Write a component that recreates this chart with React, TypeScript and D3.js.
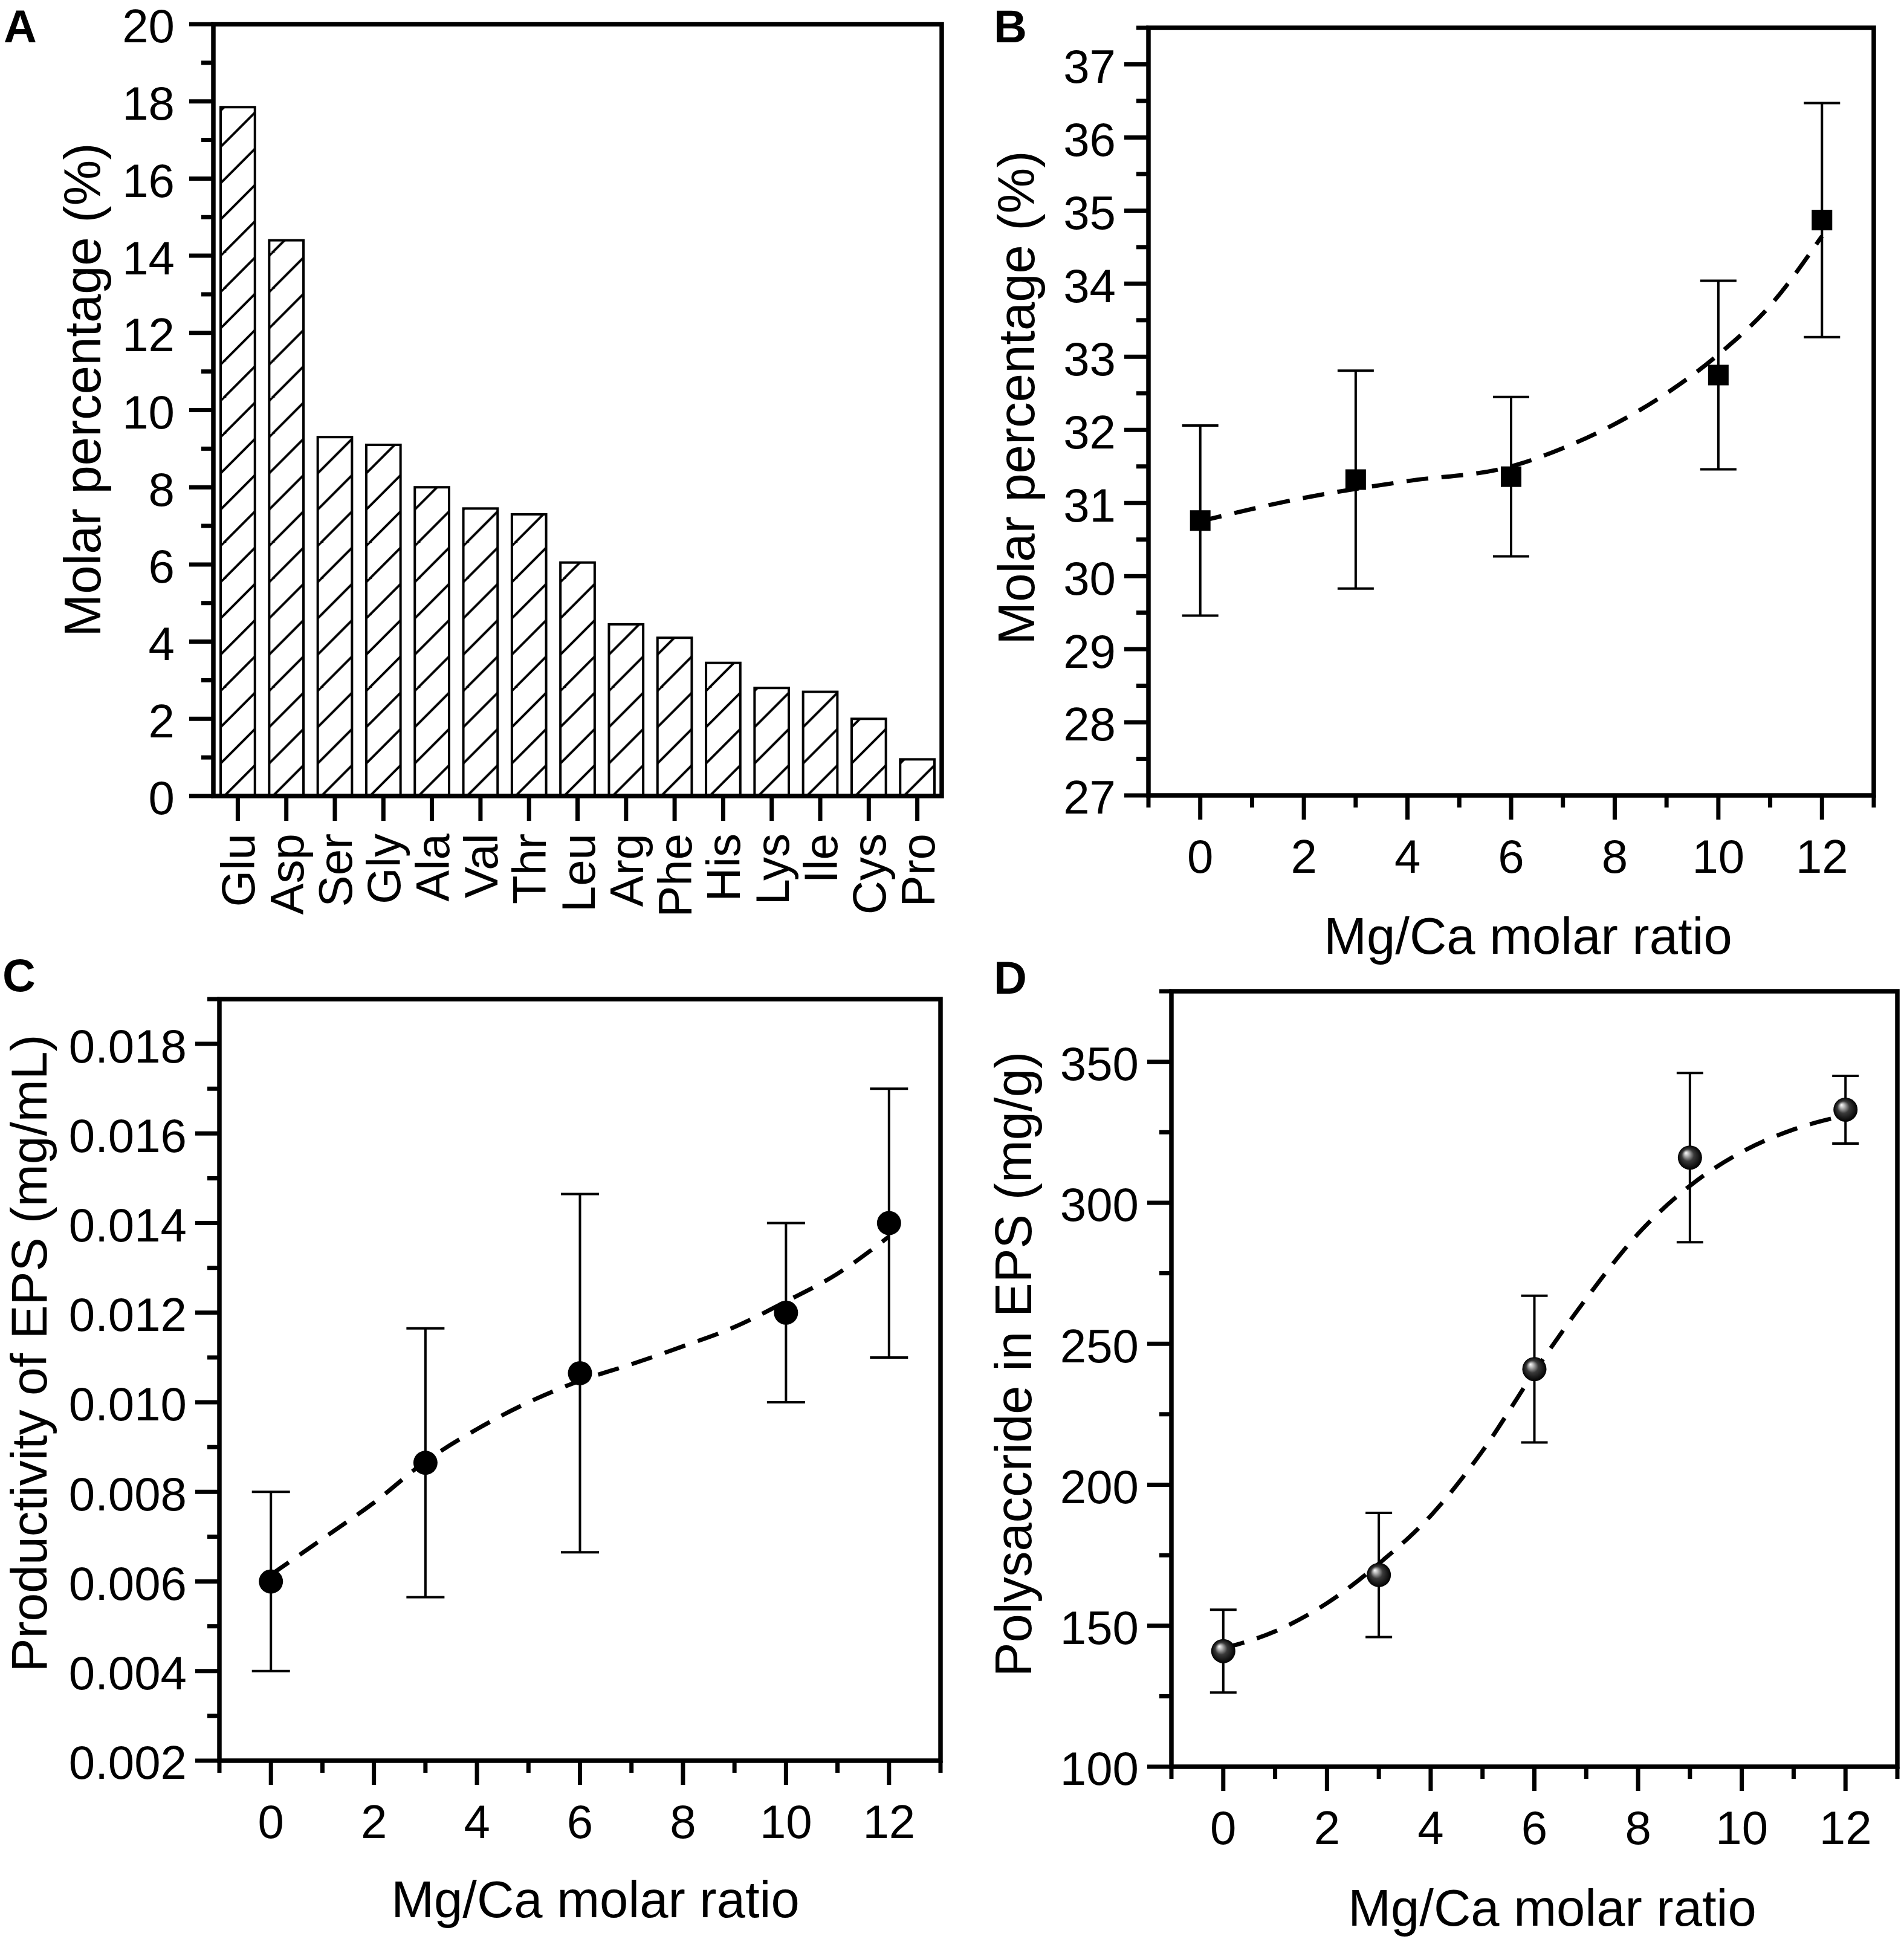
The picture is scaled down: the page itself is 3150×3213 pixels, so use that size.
import React from 'react';
import * as d3 from 'd3';

// panel A: amino acid composition
const aminoAcids = ['Glu', 'Asp', 'Ser', 'Gly', 'Ala', 'Val', 'Thr', 'Leu', 'Arg', 'Phe', 'His', 'Lys', 'Ile', 'Cys', 'Pro'];
const molarPct = [17.85, 14.4, 9.3, 9.1, 8.0, 7.45, 7.3, 6.05, 4.45, 4.1, 3.45, 2.8, 2.7, 2.0, 0.95];
const ticksA = [0, 2, 4, 6, 8, 10, 12, 14, 16, 18, 20];
const minorA = [1, 3, 5, 7, 9, 11, 13, 15, 17, 19];

// shared x axis for B, C, D
const ratioTicks = [0, 2, 4, 6, 8, 10, 12];
const ratioMinor = [-1, 1, 3, 5, 7, 9, 11, 13];

// panel B
const ratioB = [0, 3, 6, 10, 12];
const molarB = [30.76, 31.32, 31.36, 32.75, 34.87];
const errB = [1.3, 1.49, 1.09, 1.29, 1.6];
const fitXB = [0, 2, 4, 6, 7, 8, 9, 10, 11, 12];
const fitYB = [30.75, 31.07, 31.3, 31.5, 31.75, 32.08, 32.5, 33.03, 33.7, 34.65];
const ticksB = [27, 28, 29, 30, 31, 32, 33, 34, 35, 36, 37];
const minorB = [27.5, 28.5, 29.5, 30.5, 31.5, 32.5, 33.5, 34.5, 35.5, 36.5, 37.5];

// panel C
const ratioC = [0, 3, 6, 10, 12];
const prodC = [0.006, 0.00865, 0.01065, 0.012, 0.014];
const errC = [0.002, 0.003, 0.004, 0.002, 0.003];
const fitXC = [0, 1, 2, 3, 4, 5, 6, 7, 8, 9, 10, 11, 12];
const fitYC = [0.00615, 0.00695, 0.00776, 0.00868, 0.0094, 0.01, 0.01048, 0.01085, 0.01125, 0.01168, 0.01225, 0.01287, 0.0137];
const ticksC = [0.002, 0.004, 0.006, 0.008, 0.01, 0.012, 0.014, 0.016, 0.018];
const minorC = [0.003, 0.005, 0.007, 0.009, 0.011, 0.013, 0.015, 0.017, 0.019];

// panel D
const ratioD = [0, 3, 6, 9, 12];
const polyD = [141, 168, 241, 316, 333];
const errD = [14.7, 22, 26, 30, 12];
const fitXD = [0, 1, 2, 3, 4, 5, 6, 7, 8, 9, 10, 11, 12];
const fitYD = [142, 148, 158, 172, 189, 212, 240, 266, 289, 306, 318, 326, 331];
const ticksD = [100, 150, 200, 250, 300, 350];
const minorD = [125, 175, 225, 275, 325, 375];

const FONT = '"Liberation Sans", Arial, Helvetica, sans-serif';
const TICK_FS = 78;
const TITLE_FS = 85;
const LETTER_FS = 76;
const AXIS_W = 7.5;
const MAJOR = 40;
const MINOR = 20;

type Box = { left: number; right: number; top: number; bottom: number };

function YAxis({
  box,
  y,
  major,
  minor,
  fmt,
  gap = 54,
}: {
  box: Box;
  y: d3.ScaleLinear<number, number>;
  major: number[];
  minor: number[];
  fmt: (v: number) => string;
  gap?: number;
}) {
  return (
    <g>
      {major.map((v) => (
        <line key={'M' + v} x1={box.left - MAJOR} x2={box.left} y1={y(v)} y2={y(v)} stroke="#000" strokeWidth={7} />
      ))}
      {minor.map((v) => (
        <line key={'m' + v} x1={box.left - MINOR} x2={box.left} y1={y(v)} y2={y(v)} stroke="#000" strokeWidth={7} />
      ))}
      {major.map((v) => (
        <text key={'t' + v} x={box.left - gap} y={y(v)} dy="0.39em" textAnchor="end" fontSize={TICK_FS}>
          {fmt(v)}
        </text>
      ))}
    </g>
  );
}

function XAxis({ box, x }: { box: Box; x: d3.ScaleLinear<number, number> }) {
  return (
    <g>
      {ratioTicks.map((v) => (
        <line key={'M' + v} x1={x(v)} x2={x(v)} y1={box.bottom} y2={box.bottom + MAJOR} stroke="#000" strokeWidth={7} />
      ))}
      {ratioMinor.map((v) => (
        <line key={'m' + v} x1={x(v)} x2={x(v)} y1={box.bottom} y2={box.bottom + MINOR} stroke="#000" strokeWidth={7} />
      ))}
      {ratioTicks.map((v) => (
        <text key={'t' + v} x={x(v)} y={box.bottom + 128} textAnchor="middle" fontSize={TICK_FS}>
          {v}
        </text>
      ))}
    </g>
  );
}

function Frame({ box }: { box: Box }) {
  return (
    <rect x={box.left} y={box.top} width={box.right - box.left} height={box.bottom - box.top} fill="none" stroke="#000" strokeWidth={AXIS_W} />
  );
}

interface ScatterProps {
  box: Box;
  yDomain: [number, number];
  xs: number[];
  ys: number[];
  errs: number[];
  fitX: number[];
  fitY: number[];
  major: number[];
  minor: number[];
  fmt: (v: number) => string;
  marker: 'square' | 'circle' | 'sphere';
  cap: number;
  yTitle: string;
  yTitleX: number;
  yTitleY: number;
  yTitleFs?: number;
  xTitleX: number;
  xTitleY: number;
  letter: string;
  letterX: number;
  letterY: number;
}

function ScatterPanel(p: ScatterProps) {
  const x = d3.scaleLinear().domain([-1, 13]).range([p.box.left, p.box.right]);
  const y = d3.scaleLinear().domain(p.yDomain).range([p.box.bottom, p.box.top]);
  const fit = d3
    .line<number>()
    .x((_, i) => x(p.fitX[i]))
    .y((d) => y(d))
    .curve(d3.curveMonotoneX);
  return (
    <g>
      <XAxis box={p.box} x={x} />
      <YAxis box={p.box} y={y} major={p.major} minor={p.minor} fmt={p.fmt} />
      {p.xs.map((xv, i) => {
        const cx = x(xv);
        const hi = y(p.ys[i] + p.errs[i]);
        const lo = y(p.ys[i] - p.errs[i]);
        return (
          <g key={'e' + i} stroke="#000" strokeWidth={4}>
            <line x1={cx} x2={cx} y1={hi} y2={lo} />
            <line x1={cx - p.cap / 2} x2={cx + p.cap / 2} y1={hi} y2={hi} />
            <line x1={cx - p.cap / 2} x2={cx + p.cap / 2} y1={lo} y2={lo} />
          </g>
        );
      })}
      <path d={fit(p.fitY) ?? ''} fill="none" stroke="#000" strokeWidth={7} strokeDasharray="36 22" />
      {p.xs.map((xv, i) => {
        const cx = x(xv);
        const cy = y(p.ys[i]);
        if (p.marker === 'square') return <rect key={'p' + i} x={cx - 17} y={cy - 17} width={34} height={34} fill="#000" />;
        if (p.marker === 'circle') return <circle key={'p' + i} cx={cx} cy={cy} r={20} fill="#000" />;
        return <circle key={'p' + i} cx={cx} cy={cy} r={20} fill="url(#sphere)" />;
      })}
      <Frame box={p.box} />
      <text transform={`translate(${p.yTitleX},${p.yTitleY}) rotate(-90)`} textAnchor="middle" fontSize={p.yTitleFs ?? TITLE_FS}>
        {p.yTitle}
      </text>
      <text x={p.xTitleX} y={p.xTitleY} textAnchor="middle" fontSize={TITLE_FS}>
        Mg/Ca molar ratio
      </text>
      <text x={p.letterX} y={p.letterY} fontSize={LETTER_FS} fontWeight="bold">
        {p.letter}
      </text>
    </g>
  );
}

function BarPanel() {
  const box: Box = { left: 353, right: 1558, top: 40, bottom: 1317 };
  const x = d3.scaleBand<string>().domain(aminoAcids).range([box.left, box.right]).paddingInner(0.294).paddingOuter(0.15);
  const y = d3.scaleLinear().domain([0, 20]).range([box.bottom, box.top]);
  const bw = x.bandwidth();
  return (
    <g>
      <defs>
        {aminoAcids.map((a) => (
          <pattern key={a} id={'hatch-' + a} patternUnits="userSpaceOnUse" width={60} height={60} x={(x(a) ?? 0) + 6} y={box.bottom}>
            <line x1={0} y1={60} x2={60} y2={0} stroke="#000" strokeWidth={4} />
            <line x1={-10} y1={10} x2={10} y2={-10} stroke="#000" strokeWidth={4} />
            <line x1={50} y1={70} x2={70} y2={50} stroke="#000" strokeWidth={4} />
          </pattern>
        ))}
      </defs>
      {aminoAcids.map((a, i) => (
        <rect
          key={a}
          x={x(a)}
          y={y(molarPct[i])}
          width={bw}
          height={box.bottom - y(molarPct[i])}
          fill={`url(#hatch-${a})`}
          stroke="#000"
          strokeWidth={4}
        />
      ))}
      <YAxis box={box} y={y} major={ticksA} minor={minorA} fmt={(v) => String(v)} gap={64} />
      {aminoAcids.map((a) => {
        const cx = (x(a) ?? 0) + bw / 2;
        return (
          <g key={'t' + a}>
            <line x1={cx} x2={cx} y1={box.bottom} y2={box.bottom + 41} stroke="#000" strokeWidth={7} />
            <text transform={`translate(${cx + 28},${box.bottom + 62}) rotate(-90)`} textAnchor="end" fontSize={TICK_FS}>
              {a}
            </text>
          </g>
        );
      })}
      <Frame box={box} />
      <text transform="translate(166,645) rotate(-90)" textAnchor="middle" fontSize={TITLE_FS}>
        Molar percentage (%)
      </text>
      <text x={6} y={70} fontSize={LETTER_FS} fontWeight="bold">
        A
      </text>
    </g>
  );
}

const App: React.FC = () => {
  return (
    <svg
      width={3150}
      height={3213}
      viewBox="0 0 3150 3213"
      style={{ position: 'absolute', left: 0, top: 0, background: '#fff' }}
      fontFamily={FONT}
    >
      <defs>
        <radialGradient id="sphere" cx="0.5" cy="0.5" r="0.5" fx="0.33" fy="0.3">
          <stop offset="0" stopColor="#ffffff" />
          <stop offset="0.18" stopColor="#bdbdbd" />
          <stop offset="0.5" stopColor="#3a3a3a" />
          <stop offset="1" stopColor="#000000" />
        </radialGradient>
      </defs>
      <rect width={3150} height={3213} fill="#fff" />
      <BarPanel />
      <ScatterPanel
        box={{ left: 1900, right: 3100, top: 46, bottom: 1316 }}
        yDomain={[27, 37.5]}
        xs={ratioB}
        ys={molarB}
        errs={errB}
        fitX={fitXB}
        fitY={fitYB}
        major={ticksB}
        minor={minorB}
        fmt={(v) => String(v)}
        marker="square"
        cap={60}
        yTitle="Molar percentage (%)"
        yTitleX={1711}
        yTitleY={658}
        xTitleX={2528}
        xTitleY={1578}
        letter="B"
        letterX={1644}
        letterY={70}
      />
      <ScatterPanel
        box={{ left: 363, right: 1556, top: 1653, bottom: 2913 }}
        yDomain={[0.002, 0.019]}
        xs={ratioC}
        ys={prodC}
        errs={errC}
        fitX={fitXC}
        fitY={fitYC}
        major={ticksC}
        minor={minorC}
        fmt={d3.format('.3f')}
        marker="circle"
        cap={63}
        yTitle="Productivity of EPS (mg/mL)"
        yTitleX={77}
        yTitleY={2239}
        yTitleFs={84}
        xTitleX={985}
        xTitleY={3172}
        letter="C"
        letterX={4}
        letterY={1640}
      />
      <ScatterPanel
        box={{ left: 1938, right: 3139, top: 1640, bottom: 2923 }}
        yDomain={[100, 375]}
        xs={ratioD}
        ys={polyD}
        errs={errD}
        fitX={fitXD}
        fitY={fitYD}
        major={ticksD}
        minor={minorD}
        fmt={(v) => String(v)}
        marker="sphere"
        cap={44}
        yTitle="Polysaccride in EPS (mg/g)"
        yTitleX={1706}
        yTitleY={2257}
        xTitleX={2568}
        xTitleY={3186}
        letter="D"
        letterX={1644}
        letterY={1644}
      />
    </svg>
  );
};

export default App;
